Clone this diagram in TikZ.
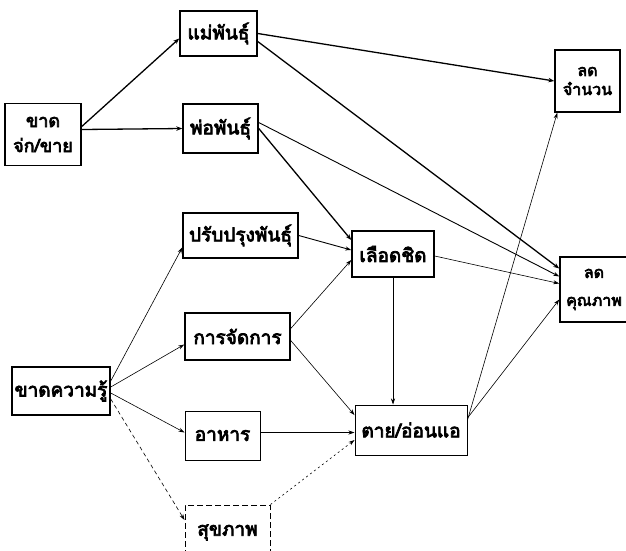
\documentclass[tikz,border=0pt]{standalone}
\usepackage{fontspec}
\newfontfamily\thai[Script=Thai,FakeBold=4]{Loma}
\usetikzlibrary{arrows.meta}
\tikzset{
  box/.style={draw, line width=1.5pt, inner sep=0pt, align=center,
    font=\thai\fontsize{19}{23}\selectfont},
  thinarrow/.style={line width=0.6pt, -{Stealth[length=6pt,width=4pt]}},
  thickarrow/.style={line width=1.3pt, -{Stealth[length=6pt,width=4.5pt]}},
  dashline/.style={line width=0.6pt, dash pattern=on 4pt off 3pt, -{Stealth[length=6pt,width=4pt]}}
}
\begin{document}
\begin{tikzpicture}[x=1pt,y=-1pt]
\useasboundingbox (0,0) rectangle (626,550);
\clip (0,0) rectangle (626,550);
\node[box, minimum width=76pt, minimum height=62pt, font=\thai\fontsize{18}{25}\selectfont] (ks) at (43,134.5) {ขาด\\จ่ก/ขาย};
\node[box, minimum width=77pt, minimum height=45pt] (mae) at (218.5,33.5) {แม่พันธุ์};
\node[box, minimum width=75pt, minimum height=49pt] (por) at (220.5,128.5) {พ่อพันธุ์};
\node[box, minimum width=115pt, minimum height=45pt] (prab) at (240.5,235.5) {ปรับปรุงพันธุ์};
\node[box, minimum width=82pt, minimum height=46pt] (lued) at (393,254) {เลือดชิด};
\node[box, minimum width=105pt, minimum height=47pt] (kan) at (237.5,336.5) {การจัดการ};
\node[box, minimum width=98pt, minimum height=48pt] (kr) at (61,391) {ขาดความรู้};
\node[box, line width=1pt, minimum width=75pt, minimum height=49pt] (ahan) at (222.5,435.5) {อาหาร};
\node[box, line width=1pt, minimum width=112pt, minimum height=50pt] (tai) at (411,430) {ตาย/อ่อนแอ};
\node[box, line width=1pt, dash pattern=on 6pt off 3pt, minimum width=85pt, minimum height=55pt] (suk) at (227.5,532.5) {สุขภาพ};
\node[box, minimum width=65pt, minimum height=62pt, font=\thai\fontsize{16}{19}\selectfont] (lj) at (587.5,81) {ลด\\จำนวน};
\node[box, minimum width=68pt, minimum height=65pt, font=\thai\fontsize{16}{28}\selectfont] (lk) at (594,289.5) {ลด\\คุณภาพ};

\draw[thickarrow] ([yshift=8pt]ks.east) -- ([yshift=-5pt]mae.west);
\draw[thickarrow] ([yshift=5pt]ks.east) -- (por.west);
\draw[thickarrow] (mae.east) -- (lj.west);
\draw[thickarrow] ([yshift=-8pt]mae.east) -- ([yshift=21pt]lk.west);
\draw[thickarrow] (por.east) -- ([yshift=14pt]lued.west);
\draw[thinarrow, line width=0.9pt] ([yshift=6pt]por.east) -- ([yshift=13pt]lk.west);
\draw[thinarrow, line width=0.9pt] (prab.east) -- ([yshift=4pt]lued.west);
\draw[thinarrow] ([yshift=8pt]kan.east) -- ([yshift=-6pt]lued.west);
\draw[thinarrow] ([yshift=-4pt]kan.east) -- ([yshift=15pt]tai.west);
\draw[thinarrow] ([yshift=3pt]ahan.east) -- ([yshift=-2.5pt]tai.west);
\draw[dashline, dash pattern=on 2pt off 3pt] (suk.north east) -- ([yshift=-10pt]tai.west);
\draw[thinarrow] (lued.south) -- (lued.south |- tai.north);
\draw[thinarrow] ([yshift=-2pt]lued.east) -- ([yshift=6pt]lk.west);
\draw[thinarrow] ([yshift=10pt]tai.east) -- ([xshift=3pt]lj.south west);
\draw[thinarrow] ([yshift=12pt]tai.east) -- ([yshift=-10pt]lk.west);
\draw[thinarrow] ([yshift=10pt]kr.east) -- ([yshift=-12pt]prab.west);
\draw[thinarrow] ([yshift=4pt]kr.east) -- ([yshift=-8pt]kan.west);
\draw[thinarrow] ([yshift=-2pt]kr.east) -- ([yshift=3pt]ahan.west);
\draw[dashline] ([yshift=-8pt]kr.east) -- ([yshift=12.5pt]suk.west);
\end{tikzpicture}
\end{document}
